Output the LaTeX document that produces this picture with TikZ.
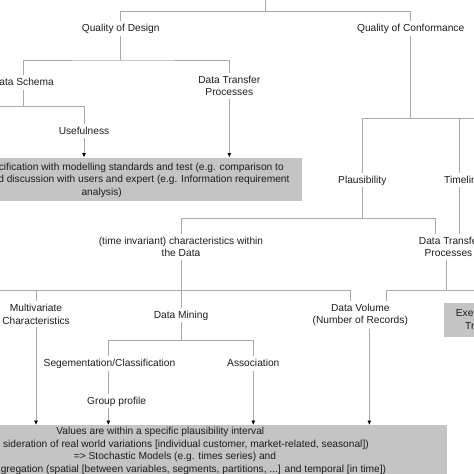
\documentclass[tikz,border=0pt]{standalone}
\usepackage{fontspec}
\setmainfont{Liberation Sans}
\usetikzlibrary{positioning}
\usetikzlibrary{calc}
\usetikzlibrary{arrows.meta}
\definecolor{lin}{HTML}{A9A9A9}
\definecolor{boxc}{HTML}{C4C4C4}
\definecolor{txt}{HTML}{1C1C1C}

\begin{document}
\begin{tikzpicture}[x=1pt,y=-1pt,font=\fontsize{10.2}{12.4}\selectfont,
  lbl/.style={inner xsep=1pt,inner ysep=3pt,text=txt,text height=7.4pt,text depth=0.6pt},
  lbltwo/.style={inner xsep=1pt,inner ysep=3pt,text=txt,align=center},
  tline/.style={draw=lin,line width=0.8pt},
  arr/.style={tline,-{Latex[length=4.5pt,width=4pt,black]}},
  greybox/.style={fill=boxc,draw=none,inner sep=0pt,anchor=north west}]
\useasboundingbox (0,0) rectangle (474,474);

% grey boxes
\node[greybox,minimum width=301.7pt,minimum height=43.5pt](spec) at (0,157.5){};
\node[greybox,minimum width=30.7pt,minimum height=34pt](exe) at (443.3,302.7){};
\node[greybox,minimum width=446.7pt,minimum height=49pt](vals) at (0,425){};

% labels
\node[lbl](qd) at (120.7,28.3){Quality of Design};
\node[lbl](qc) at (410.7,28.3){Quality of Conformance};
\node[lbl,anchor=east](ds) at (55,82.3){ata Schema};
\node[lbltwo](dtpA) at (229.3,86){Data Transfer\\Processes};
\node[lbl](use) at (84,130.7){Usefulness};
\node[lbl](pl) at (362.3,180){Plausibility};
\node[lbl,anchor=west](tl) at (443,180){Timelin};
\node[lbltwo](ti) at (181,246.7){(time invariant) characteristics within\\the Data};
\node[lbl,anchor=west](dtpB) at (417.7,240.7){Data Transfe};
\node[lbl](dtpC) at (448.5,252.7){Processes};
\node[lbltwo](mv) at (36,314.3){Multivariate\\Characteristics};
\node[lbl](dm) at (181,315){Data Mining};
\node[lbltwo](dv) at (360.3,314.8){Data Volume\\(Number of Records)};
\node[lbl](seg) at (109.5,363.3){Segementation/Classification};
\node[lbl](asc) at (253.3,363.3){Association};
\node[lbl](gp) at (116.7,400.7){Group profile};

% box texts
\node[lbl,anchor=east](spec1) at (285,166.7){cification with modelling standards and test (e.g. comparison to};
\node[lbl,anchor=east](spec2) at (290.7,179){d discussion with users and expert (e.g. Information requirement};
\node[lbl](spec3) at (101.7,191.7){analysis)};
\node[lbl,anchor=west](exe1) at (454.7,313){Exe};
\node[lbl,anchor=west](exe2) at (464,326){Tr};
\node[lbl](vals1) at (160.3,431.2){Values are within a specific plausibility interval};
\node[lbl,anchor=east](vals2) at (370,443.8){sideration of real world variations [individual customer, market-related, seasonal])};
\node[lbl](vals3) at (175,456.4){=> Stochastic Models (e.g. times series) and};
\node[lbl,anchor=east](vals4) at (387.3,469){gregation (spatial [between variables, segments, partitions, ...] and temporal [in time])};

% junctions
\coordinate(root) at (265.7,0);
\coordinate(jTop) at (265.7,11.7);
\coordinate(jDes) at (120.7,60);
\coordinate(jSch) at (23.3,106.7);
\coordinate(eSch) at (0,106.7);
\coordinate(jCon) at (410.7,118.3);
\coordinate(jTim) at (459,118.3);
\coordinate(eCon) at (474,118.3);
\coordinate(jPla) at (362.3,218.3);
\coordinate(jPlR) at (435,218.3);
\coordinate(eInv) at (0,290.7);
\coordinate(jVoL) at (350.7,290.7);
\coordinate(jVoR) at (386.3,290.7);
\coordinate(jDtp) at (446.7,290.7);
\coordinate(eDtp) at (474,290.7);
\coordinate(jSeg) at (108.3,340);
\coordinate(jAsc) at (253.3,340);

% design side
\draw[tline] (root) -- (jTop);
\draw[tline] (qd) |- (jTop) -| (qc);
\draw[tline] (qd) -- (jDes);
\draw[tline] (ds.north -| jSch) |- (jDes) -| (dtpA);
\draw[tline] (ds.south -| jSch) -- (jSch);
\draw[tline] (eSch) -| (use);
\draw[arr] (use) -- (use |- spec.north);
\draw[arr] (dtpA) -- (dtpA |- spec.north);

% conformance side
\draw[tline] (qc) -- (jCon);
\draw[tline] (pl) |- (jCon) -- (eCon);
\draw[tline] (tl.north -| jTim) -- (jTim);
\draw[tline] (tl.south -| jTim) -- (jTim |- dtpB.north);
\draw[tline] (pl) -- (jPla);
\draw[tline] (ti) |- (jPla) -- (jPlR) -- (jPlR |- dtpB.north);
\draw[tline] (ti) -- (dm);
\draw[tline] (eInv) -- (jVoL) -- (jVoL |- dv.north);
\draw[tline] (eInv -| mv) -- (mv);
\draw[tline] (dtpC.south -| jDtp) -- (jDtp);
\draw[tline] (jVoR |- dv.north) -- (jVoR) -- (eDtp);
\draw[tline] (dm) -- (dm |- jSeg);
\draw[tline] (seg.north -| jSeg) |- (jAsc) -- (asc);
\draw[tline] (seg.south -| jSeg) -- (gp.north -| jSeg);

% arrows into the bottom box
\draw[arr] (mv) -- (mv |- vals.north);
\draw[arr] (gp.south -| jSeg) -- (jSeg |- vals.north);
\draw[arr] (asc) -- (asc |- vals.north);
\draw[arr] ([xshift=9pt]dv.south) -- ([xshift=9pt]dv.south |- vals.north);
\end{tikzpicture}
\end{document}
